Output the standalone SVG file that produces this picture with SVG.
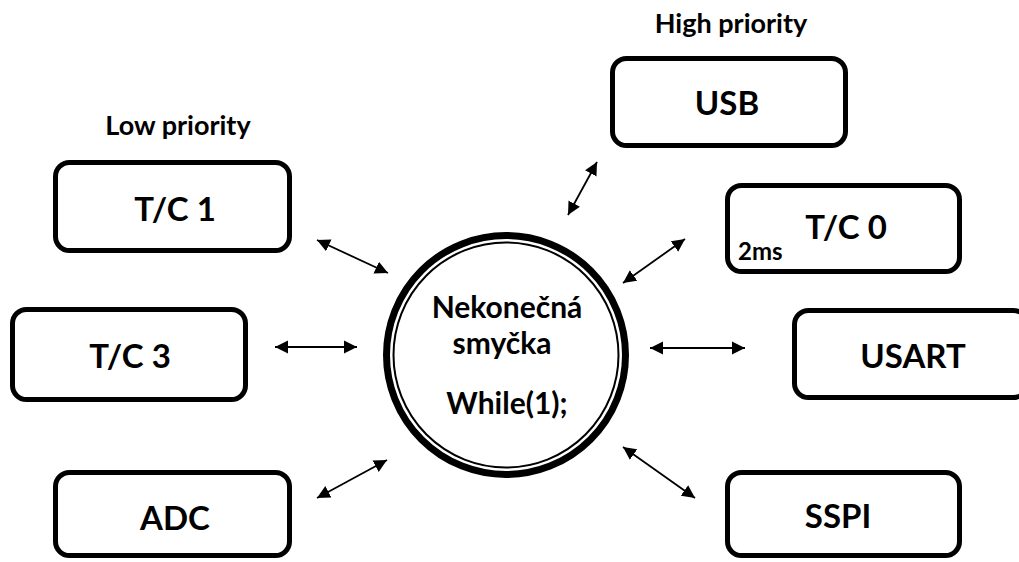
<svg xmlns="http://www.w3.org/2000/svg" width="1019" height="562" viewBox="0 0 1019 562">
<defs>
<style>
.box{fill:#fff;stroke:#000;stroke-width:5}
.lbl{font-family:Lato,"Liberation Sans",sans-serif;font-weight:bold;fill:#000;text-anchor:middle}
.big{font-size:33px}
.cap{font-size:27px}
.mid{font-size:30px}
.conn line{stroke:#000;stroke-width:1.8;marker-start:url(#ah);marker-end:url(#ah)}
</style>
<marker id="ah" markerUnits="userSpaceOnUse" markerWidth="14" markerHeight="14" refX="13" refY="6.5" orient="auto-start-reverse" viewBox="0 0 14 13">
<path d="M0,0 L13,6.5 L0,13 z" fill="#000"/>
</marker>
</defs>
<rect width="1019" height="562" fill="#fff"/>
<text class="lbl cap" x="731" y="33">High priority</text>
<text class="lbl cap" x="178" y="135">Low priority</text>
<g id="usb"><rect class="box" x="612.5" y="58.5" width="233" height="87" rx="14"/><text class="lbl big" x="727" y="115">USB</text></g>
<g id="tc0"><rect class="box" x="727.5" y="185.5" width="232" height="86" rx="14"/><text class="lbl big" x="846" y="239">T/C 0</text><text class="lbl" x="738" y="260" style="font-size:24px;text-anchor:start">2ms</text></g>
<g id="tc1"><rect class="box" x="55.5" y="162.5" width="234" height="88" rx="14"/><text class="lbl big" x="175" y="221">T/C 1</text></g>
<g id="tc3"><rect class="box" x="12.5" y="309.5" width="233" height="90" rx="14"/><text class="lbl big" x="130" y="368">T/C 3</text></g>
<g id="usart"><rect class="box" x="794.5" y="310.5" width="233" height="87" rx="14"/><text class="lbl big" x="913" y="368">USART</text></g>
<g id="adc"><rect class="box" x="55.5" y="472.5" width="234" height="83" rx="14"/><text class="lbl big" x="175" y="530">ADC</text></g>
<g id="sspi"><rect class="box" x="727.5" y="472.5" width="232" height="83" rx="14"/><text class="lbl big" x="838" y="528">SSPI</text></g>
<g id="loop">
<circle cx="506" cy="355" r="119.5" fill="#fff" stroke="#000" stroke-width="7"/>
<circle cx="506" cy="355" r="112.5" fill="none" stroke="#000" stroke-width="2"/>
<text class="lbl mid" x="507" y="318">Nekonečná</text>
<text class="lbl mid" x="502" y="354">smyčka</text>
<text class="lbl mid" x="507" y="414">While(1);</text>
</g>
<g id="connectors" class="conn">
<line x1="597" y1="162" x2="568" y2="215"/>
<line x1="685" y1="239" x2="623" y2="283"/>
<line x1="317" y1="240" x2="388" y2="273"/>
<line x1="275" y1="347" x2="357" y2="347"/>
<line x1="650" y1="348" x2="745" y2="348"/>
<line x1="317" y1="498" x2="387" y2="460"/>
<line x1="623" y1="447" x2="695" y2="498"/>
</g>
</svg>
